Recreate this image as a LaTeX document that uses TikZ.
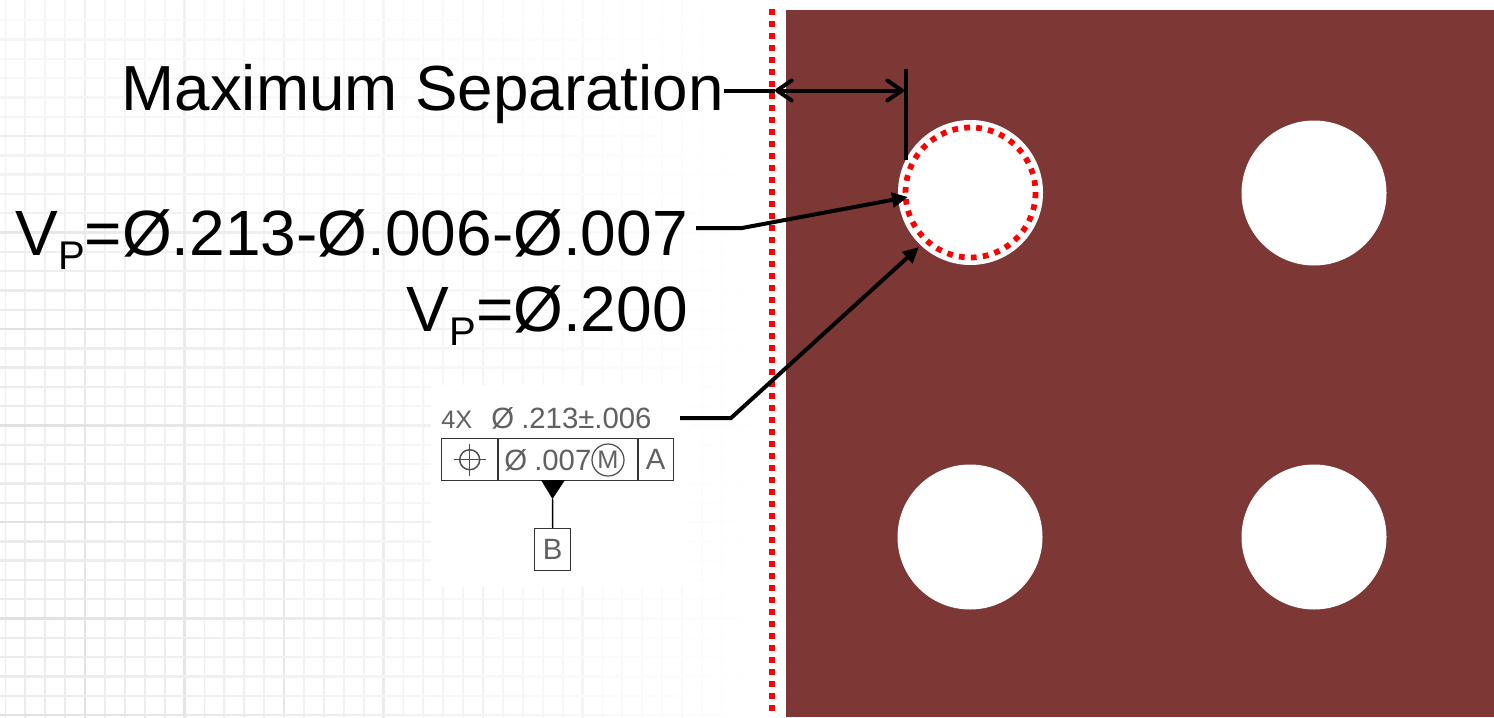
\documentclass[tikz,border=0pt]{standalone}
\usepackage{fontspec}
\setmainfont{Liberation Sans}
\usetikzlibrary{arrows.meta}
\definecolor{plate}{RGB}{125,55,53}
\tikzset{
 x=0.75pt,y=-0.75pt,
 lead/.style={line width=3pt,black,line cap=butt},
 tiparrow/.style={-{Triangle[length=12pt,width=11pt]}},
 barbs/.style={{Straight Barb[length=11pt,width=15pt,round]}-{Straight Barb[length=11pt,width=15pt,round]}},
 hole/.style={circle,fill=white,draw=none,inner sep=0pt,minimum size=108.75pt},
 label/.style={font=\fontsize{48}{48}\selectfont,inner sep=0pt,text=black},
 fcfbox/.style={draw=black!80,line width=1.1pt,rectangle,inner sep=0pt,minimum height=31.5pt,anchor=north west},
 fcfline/.style={line width=1.1pt,draw=black!70},
 fcftext/.style={font=\fontsize{22}{22}\selectfont,inner sep=0pt,text=black!62},
}
\newcommand{\minorgrid}{8}
\newcommand{\majorgrid}{12}
\begin{document}
\begin{tikzpicture}
\useasboundingbox (0,0) rectangle (1494,717);
\fill[white] (0,0) rectangle (1494,717);
% graph paper: vertical lines
\foreach \i in {0,...,38}{
  \pgfmathsetmacro{\xx}{5.5+19.9*\i}
  \pgfmathsetmacro{\pc}{\minorgrid*max(0.03,1-(\xx/780)^1.5)}
  \shade[bottom color=black!\pc,top color=black!\pc!white!50!white] (\xx-0.7,0) rectangle (\xx+0.7,717);
}
\foreach \i in {0,...,7}{
  \pgfmathsetmacro{\xx}{85+99.5*\i}
  \pgfmathsetmacro{\pc}{\majorgrid*max(0.03,1-(\xx/780)^1.5)}
  \shade[bottom color=black!\pc,top color=black!\pc!white!50!white] (\xx-0.9,0) rectangle (\xx+0.9,717);
}
% graph paper: horizontal lines
\foreach \i in {0,...,36}{
  \pgfmathsetmacro{\yy}{715-19.3*\i}
  \pgfmathsetmacro{\pc}{\minorgrid*max(0.25,min(1,0.25+\yy/420))}
  \shade[left color=black!\pc,right color=white] (0,\yy-0.7) rectangle (770,\yy+0.7);
}
\foreach \i in {0,...,7}{
  \pgfmathsetmacro{\yy}{715-96.5*\i}
  \pgfmathsetmacro{\pc}{\majorgrid*max(0.25,min(1,0.25+\yy/420))}
  \shade[left color=black!\pc,right color=white] (0,\yy-0.9) rectangle (770,\yy+0.9);
}
% white patch behind the tolerance picture
\fill[white] (431,385) rectangle (690,582);
\fill[white] (431,582) rectangle (770,587);
% plate
\fill[plate] (786,10) rectangle (1494,717);
\node[hole] (h1) at (970.5,192.5) {};
\node[hole] (h2) at (1314,193) {};
\node[hole] (h3) at (970,537) {};
\node[hole] (h4) at (1314,537) {};
% red dotted
\coordinate (rt) at (772,9);
\coordinate (rb) at (772,717);
\draw[red,line width=4.5pt,dash pattern=on 4.5pt off 4.5pt] (rt) -- (rb);
\draw[red,line width=4.3pt,dash pattern=on 4.3pt off 4.7pt] (h1.center) circle[radius=65];
% labels
\node[label,font=\fontsize{47.8}{48}\selectfont,anchor=base east] (ms) at (724,110) {Maximum Separation};
\node[label,anchor=base east] (vp1) at (688,255) {V\raisebox{-11pt}{\fontsize{30}{30}\selectfont P}=Ø.213-Ø.006-Ø.007};
\node[label,anchor=base east] (vp2) at (688,331) {V\raisebox{-11pt}{\fontsize{30}{30}\selectfont P}=Ø.200};
% dimension
\coordinate (extT) at (905.5,69);
\coordinate (extB) at (905.5,160);
\coordinate (arrL) at (775,90.5);
\coordinate (arrR) at (904,90.5);
\draw[lead] (extT) -- (extB);
\draw[lead] (ms.east |- arrL) -- (arrL);
\draw[lead,barbs] (arrL) -- (arrR);
% leaders
\coordinate (l1a) at (696,228);
\coordinate (l1b) at (742,228);
\coordinate (l1c) at (908,197);
\draw[lead,tiparrow] (l1a) -- (l1b) -- (l1c);
\coordinate (l2a) at (680,418);
\coordinate (l2b) at (731,418);
\coordinate (l2c) at (919,247);
\draw[lead,tiparrow] (l2a) -- (l2b) -- (l2c);
% tolerance frame
\node[fcftext,anchor=base west,font=\fontsize{19}{22}\selectfont] (t4x) at (441,428) {4X};
\node[fcftext,anchor=base west] (tdia) at (491,428) {Ø};
\node[fcftext,anchor=base west] (tdim) at (521,428) {.213±.006};
\node[fcfbox,minimum width=42pt] (c1) at (441,438) {};
\node[fcfbox,minimum width=105pt] (c2) at (497.5,438) {};
\node[fcfbox,minimum width=27pt] (c3) at (637,438) {};
\draw[fcfline] (c1.center) circle[radius=10];
\draw[fcfline] ([xshift=-12pt]c1.center) -- ([xshift=12pt]c1.center);
\draw[fcfline] ([yshift=-12pt]c1.center) -- ([yshift=12pt]c1.center);
\node[fcftext,anchor=base west] (t007) at (504,470) {Ø};
\node[fcftext,anchor=base west] (t007b) at (534,470) {.007};
\node[draw=black!70,line width=0.9pt,circle,inner sep=0pt,minimum size=24pt,text=black!62,font=\fontsize{19}{19}\selectfont] (tm) at (608,460) {M};
\node[fcftext,anchor=center] (ta) at (c3.center) {A};
\node[fcfbox,minimum width=27pt] (db) at (534,528) {};
\node[fcftext,anchor=center] (tb) at (db.center) {B};
\coordinate (tri) at (552.5,499);
\fill[black] (541,480) -- (565,480) -- (tri) -- cycle;
\draw[line width=1.1pt,black] (tri) -- (db.north);
\end{tikzpicture}
\end{document}
